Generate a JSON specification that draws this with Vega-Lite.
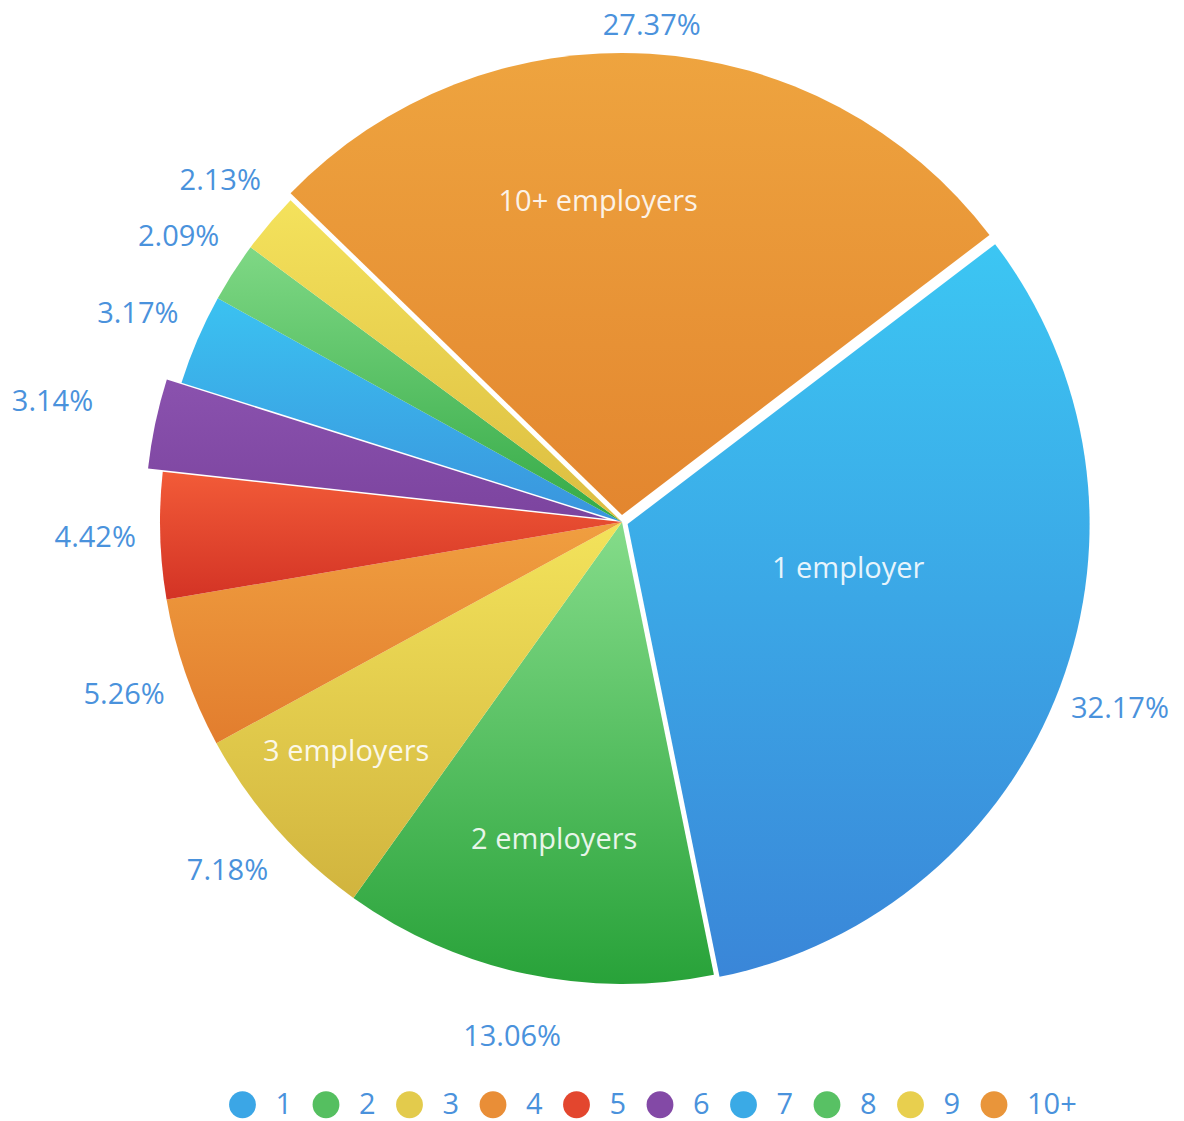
{
  "$schema": "https://vega.github.io/schema/vega-lite/v6.json",
  "width": 1124,
  "height": 1044,
  "autosize": {"type": "none"},
  "padding": {"left": 60, "top": 0, "right": 0, "bottom": 77},
  "background": "#ffffff",
  "config": {"view": {"stroke": null}},
  "data": {
    "values": [
      {"k": "1", "order": 1, "share": 0.3217, "name": "1 employer"},
      {"k": "2", "order": 2, "share": 0.1306, "name": "2 employers"},
      {"k": "3", "order": 3, "share": 0.0718, "name": "3 employers"},
      {"k": "4", "order": 4, "share": 0.0526, "name": "4 employers"},
      {"k": "5", "order": 5, "share": 0.0442, "name": "5 employers"},
      {"k": "6", "order": 6, "share": 0.0314, "name": "6 employers"},
      {"k": "7", "order": 7, "share": 0.0317, "name": "7 employers"},
      {"k": "8", "order": 8, "share": 0.0209, "name": "8 employers"},
      {"k": "9", "order": 9, "share": 0.0213, "name": "9 employers"},
      {"k": "10+", "order": 10, "share": 0.2737, "name": "10+ employers"}
    ]
  },
  "transform": [
    {"stack": "share", "groupby": [], "sort": [{"field": "order", "order": "ascending"}], "as": ["v0", "v1"]}
  ],
  "layer": [
    {
      "mark": {"type": "arc", "radius": 0},
      "encoding": {
        "theta": {"field": "v0", "type": "quantitative", "stack": null, "scale": {"domain": [0, 0.9999], "range": [0.9198, 7.203]}},
        "theta2": {"field": "v1"},
        "color": {
          "field": "k", "type": "nominal",
          "scale": {"domain": ["1","2","3","4","5","6","7","8","9","10+"], "range": ["#3ba6e6","#55bf60","#e3cb4c","#e98e37","#e3462e","#8349a6","#3aaae6","#58c164","#e8cf4e","#e9953a"]},
          "legend": {"orient": "none", "legendX": 168, "legendY": 1090, "direction": "horizontal", "columns": 10, "title": null, "symbolType": "circle", "symbolSize": 720, "labelFont": "Open Sans", "labelFontSize": 29, "labelColor": "#4a92dc", "labelOffset": 18.5, "columnPadding": 18.5, "padding": 0}
        }
      }
    },
    {"transform": [{"filter": "datum.k === '1'"}], "mark": {"type": "arc", "radius": 462, "xOffset": 5.6, "yOffset": 2.1, "color": {"gradient": "linear", "x1": 0, "y1": 0, "x2": 0, "y2": 1, "stops": [{"offset": 0, "color": "#3cc6f3"}, {"offset": 1, "color": "#3a86d8"}]}},
     "encoding": {"theta": {"field": "v0", "type": "quantitative", "stack": null, "scale": {"domain": [0, 0.9999], "range": [0.9198, 7.203]}}, "theta2": {"field": "v1"}}},
    {"transform": [{"filter": "datum.k === '2'"}], "mark": {"type": "arc", "radius": 462, "color": {"gradient": "linear", "x1": 0, "y1": 0, "x2": 0, "y2": 1, "stops": [{"offset": 0, "color": "#85dc8a"}, {"offset": 1, "color": "#28a239"}]}},
     "encoding": {"theta": {"field": "v0", "type": "quantitative", "stack": null, "scale": {"domain": [0, 0.9999], "range": [0.9198, 7.203]}}, "theta2": {"field": "v1"}}},
    {"transform": [{"filter": "datum.k === '3'"}], "mark": {"type": "arc", "radius": 462, "color": {"gradient": "linear", "x1": 0, "y1": 0, "x2": 0, "y2": 1, "stops": [{"offset": 0, "color": "#f3e35b"}, {"offset": 1, "color": "#d1b43e"}]}},
     "encoding": {"theta": {"field": "v0", "type": "quantitative", "stack": null, "scale": {"domain": [0, 0.9999], "range": [0.9198, 7.203]}}, "theta2": {"field": "v1"}}},
    {"transform": [{"filter": "datum.k === '4'"}], "mark": {"type": "arc", "radius": 462, "color": {"gradient": "linear", "x1": 0, "y1": 0, "x2": 0, "y2": 1, "stops": [{"offset": 0, "color": "#f09f40"}, {"offset": 1, "color": "#e27d2e"}]}},
     "encoding": {"theta": {"field": "v0", "type": "quantitative", "stack": null, "scale": {"domain": [0, 0.9999], "range": [0.9198, 7.203]}}, "theta2": {"field": "v1"}}},
    {"transform": [{"filter": "datum.k === '5'"}], "mark": {"type": "arc", "radius": 462, "color": {"gradient": "linear", "x1": 0, "y1": 0, "x2": 0, "y2": 1, "stops": [{"offset": 0, "color": "#f25b38"}, {"offset": 1, "color": "#d33325"}]}},
     "encoding": {"theta": {"field": "v0", "type": "quantitative", "stack": null, "scale": {"domain": [0, 0.9999], "range": [0.9198, 7.203]}}, "theta2": {"field": "v1"}}},
    {"transform": [{"filter": "datum.k === '6'"}], "mark": {"type": "arc", "radius": 462, "xOffset": -14.7, "yOffset": -3.1, "color": {"gradient": "linear", "x1": 0, "y1": 0, "x2": 0, "y2": 1, "stops": [{"offset": 0, "color": "#8a52ae"}, {"offset": 1, "color": "#7c449f"}]}},
     "encoding": {"theta": {"field": "v0", "type": "quantitative", "stack": null, "scale": {"domain": [0, 0.9999], "range": [0.9198, 7.203]}}, "theta2": {"field": "v1"}}},
    {"transform": [{"filter": "datum.k === '7'"}], "mark": {"type": "arc", "radius": 462, "color": {"gradient": "linear", "x1": 0, "y1": 0, "x2": 0, "y2": 1, "stops": [{"offset": 0, "color": "#3bc2f1"}, {"offset": 1, "color": "#3a94dd"}]}},
     "encoding": {"theta": {"field": "v0", "type": "quantitative", "stack": null, "scale": {"domain": [0, 0.9999], "range": [0.9198, 7.203]}}, "theta2": {"field": "v1"}}},
    {"transform": [{"filter": "datum.k === '8'"}], "mark": {"type": "arc", "radius": 462, "color": {"gradient": "linear", "x1": 0, "y1": 0, "x2": 0, "y2": 1, "stops": [{"offset": 0, "color": "#7fd885"}, {"offset": 1, "color": "#34aa46"}]}},
     "encoding": {"theta": {"field": "v0", "type": "quantitative", "stack": null, "scale": {"domain": [0, 0.9999], "range": [0.9198, 7.203]}}, "theta2": {"field": "v1"}}},
    {"transform": [{"filter": "datum.k === '9'"}], "mark": {"type": "arc", "radius": 462, "color": {"gradient": "linear", "x1": 0, "y1": 0, "x2": 0, "y2": 1, "stops": [{"offset": 0, "color": "#f4e25c"}, {"offset": 1, "color": "#dcbd40"}]}},
     "encoding": {"theta": {"field": "v0", "type": "quantitative", "stack": null, "scale": {"domain": [0, 0.9999], "range": [0.9198, 7.203]}}, "theta2": {"field": "v1"}}},
    {"transform": [{"filter": "datum.k === '10+'"}], "mark": {"type": "arc", "radius": 462, "yOffset": -7, "color": {"gradient": "linear", "x1": 0, "y1": 0, "x2": 0, "y2": 1, "stops": [{"offset": 0, "color": "#eea43f"}, {"offset": 1, "color": "#e3862f"}]}},
     "encoding": {"theta": {"field": "v0", "type": "quantitative", "stack": null, "scale": {"domain": [0, 0.9999], "range": [0.9198, 7.203]}}, "theta2": {"field": "v1"}}},
    {
      "mark": {"type": "text", "radius": 527, "font": "Open Sans", "fontSize": 29, "fill": "#4a92dc"},
      "encoding": {
        "theta": {"field": "share", "type": "quantitative", "stack": true, "scale": {"domain": [0, 0.9999], "range": [0.9198, 7.203]}},
        "order": {"field": "order", "type": "quantitative"},
        "text": {"condition": {"test": "indexof(['1','6','10+'], datum.k) < 0", "field": "share", "type": "quantitative", "format": ".2%"}, "value": ""}
      }
    },
    {
      "mark": {"type": "text", "radius": 497, "font": "Open Sans", "fontSize": 29, "fill": "#4a92dc"},
      "encoding": {
        "theta": {"field": "share", "type": "quantitative", "stack": true, "scale": {"domain": [0, 0.9999], "range": [0.9198, 7.203]}},
        "order": {"field": "order", "type": "quantitative"},
        "text": {"condition": {"test": "datum.k === '10+'", "field": "share", "type": "quantitative", "format": ".2%"}, "value": ""}
      }
    },
    {
      "mark": {"type": "text", "radius": 532, "font": "Open Sans", "fontSize": 29, "fill": "#4a92dc"},
      "encoding": {
        "theta": {"field": "share", "type": "quantitative", "stack": true, "scale": {"domain": [0, 0.9999], "range": [0.9198, 7.203]}},
        "order": {"field": "order", "type": "quantitative"},
        "text": {"condition": {"test": "datum.k === '1'", "field": "share", "type": "quantitative", "format": ".2%"}, "value": ""}
      }
    },
    {
      "mark": {"type": "text", "radius": 582, "font": "Open Sans", "fontSize": 29, "fill": "#4a92dc"},
      "encoding": {
        "theta": {"field": "share", "type": "quantitative", "stack": true, "scale": {"domain": [0, 0.9999], "range": [0.9198, 7.203]}},
        "order": {"field": "order", "type": "quantitative"},
        "text": {"condition": {"test": "datum.k === '6'", "field": "share", "type": "quantitative", "format": ".2%"}, "value": ""}
      }
    },
    {
      "mark": {"type": "text", "radius": 321, "thetaOffset": -0.134, "font": "Open Sans", "fontSize": 29, "fill": "#ffffff", "opacity": 0.88},
      "encoding": {
        "theta": {"field": "share", "type": "quantitative", "stack": true, "scale": {"domain": [0, 0.9999], "range": [0.9198, 7.203]}},
        "order": {"field": "order", "type": "quantitative"},
        "text": {"condition": {"test": "datum.k === '10+'", "field": "name"}, "value": ""}
      }
    },
    {
      "mark": {"type": "text", "radius": 231, "thetaOffset": -0.155, "font": "Open Sans", "fontSize": 29, "fill": "#ffffff", "opacity": 0.88},
      "encoding": {
        "theta": {"field": "share", "type": "quantitative", "stack": true, "scale": {"domain": [0, 0.9999], "range": [0.9198, 7.203]}},
        "order": {"field": "order", "type": "quantitative"},
        "text": {"condition": {"test": "datum.k === '1'", "field": "name"}, "value": ""}
      }
    },
    {
      "mark": {"type": "text", "radius": 325, "font": "Open Sans", "fontSize": 29, "fill": "#ffffff", "opacity": 0.88},
      "encoding": {
        "theta": {"field": "share", "type": "quantitative", "stack": true, "scale": {"domain": [0, 0.9999], "range": [0.9198, 7.203]}},
        "order": {"field": "order", "type": "quantitative"},
        "text": {"condition": {"test": "datum.k === '2'", "field": "name"}, "value": ""}
      }
    },
    {
      "mark": {"type": "text", "radius": 359, "thetaOffset": 0.03, "font": "Open Sans", "fontSize": 29, "fill": "#ffffff", "opacity": 0.88},
      "encoding": {
        "theta": {"field": "share", "type": "quantitative", "stack": true, "scale": {"domain": [0, 0.9999], "range": [0.9198, 7.203]}},
        "order": {"field": "order", "type": "quantitative"},
        "text": {"condition": {"test": "datum.k === '3'", "field": "name"}, "value": ""}
      }
    }
  ]
}
